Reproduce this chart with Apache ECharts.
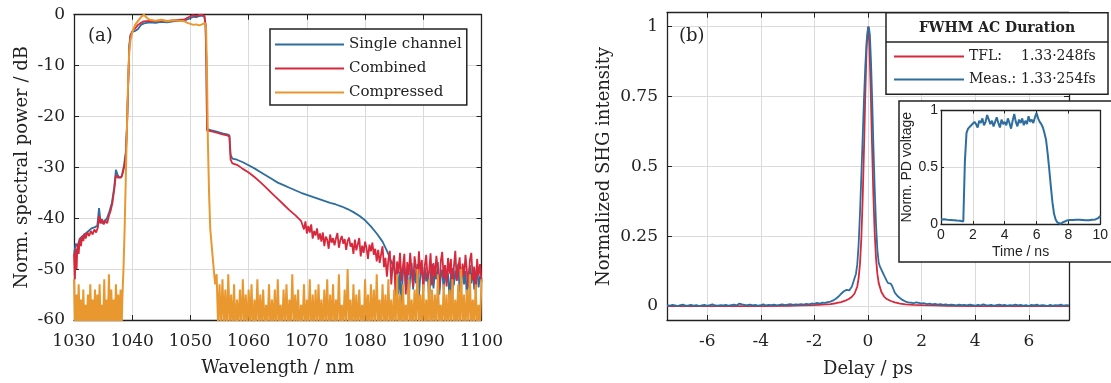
<!DOCTYPE html>
<html>
<head>
<meta charset="utf-8">
<script src="https://cdn.jsdelivr.net/npm/echarts@6/dist/echarts.min.js"></script>
<style>
html, body { margin: 0; padding: 0; background: #fff; }
#chart { width: 1111px; height: 383px; }
</style>
</head>
<body>
<div id="chart"></div>
<script>
// ---- (a) spectra, wavelength in nm, power in dB ----
var singleX = [1030,1030.3,1030.6,1031,1031.5,1032,1032.5,1033,1033.5,1034,1034.3,1034.5,1034.8,1035.2,1035.6,1036,1036.5,1036.9,1037.2,1037.5,1037.8,1038.2,1038.6,1038.9,1039.1,1039.3,1039.5,1039.7,1040,1040.5,1041,1041.5,1042,1043,1044,1045,1046,1047,1048,1049,1050,1050.5,1051,1051.5,1052,1052.4,1052.6,1052.75,1052.85,1053.5,1054.5,1055.5,1056.3,1056.7,1056.9,1057.2,1058,1059,1060,1061,1062,1063,1064,1065,1066,1067,1068,1069,1070,1071,1072,1073,1074,1075,1076,1077,1078,1079,1080,1081,1082,1083,1083.8,1084.5,1085];
var singleY = [-47,-45,-45.5,-44,-43.5,-43,-42.5,-42,-41.8,-41.5,-38,-40,-41,-40.5,-40.2,-39,-37,-34,-30.5,-31.5,-32,-31.8,-29.5,-27,-22,-14,-6,-4,-3.4,-3.2,-2.8,-2,-1.7,-1.5,-1.6,-1.4,-1.5,-1.3,-1.2,-1.1,-0.7,-0.4,-0.5,-0.3,-0.2,-0.4,-2,-10,-22.5,-22.7,-23,-23.3,-23.5,-23.7,-27.5,-28.3,-28.5,-29,-29.6,-30.2,-30.9,-31.6,-32.3,-33,-33.5,-34,-34.5,-35,-35.4,-35.8,-36.2,-36.6,-37,-37.3,-37.7,-38.2,-38.8,-39.5,-40.4,-41.6,-43,-44.6,-46.5,-48.5,-50];
var singleTailStart = 1085.25, singleTailStep = 0.25;
var singleTail = [-52,-49,-55,-50.5,-57,-51,-49.5,-53.5,-50,-56,-51.5,-48.8,-54,-50.2,-52.8,-49,-55.5,-51,-50,-53,
	-49.6,-52.4,-50.5,-56.5,-51.2,-49,-53.8,-50.6,-52,-48.6,-55,-51.4,-50.1,-54.2,-49.3,-52.6,-50.8,-56,-51,-49.8,
	-53.2,-50.3,-52.2,-48.9,-54.6,-51.1,-49.7,-53,-50.4,-55.8,-51.6,-49.2,-52.8,-50,-54,-50.9,-49.5,-53.6,-51.3,-52];

var combX = [1030,1030.15,1030.3,1030.45,1030.6,1030.8,1031,1031.2,1031.4,1031.6,1031.8,1032,1032.3,1032.6,1032.9,1033.2,1033.5,1033.8,1034.1,1034.3,1034.5,1034.8,1035.1,1035.4,1035.7,1036,1036.3,1036.6,1036.9,1037.2,1037.5,1037.8,1038.1,1038.4,1038.7,1038.9,1039.1,1039.3,1039.5,1039.7,1040,1040.5,1041,1041.5,1042,1043,1044,1045,1046,1047,1048,1049,1050,1050.5,1051,1051.5,1052,1052.4,1052.6,1052.75,1052.85,1053.5,1054.5,1055.5,1056.3,1056.7,1056.9,1057.2,1058,1059,1060,1061,1062,1063,1064,1065,1066,1067,1068,1069];
var combY = [-47,-52,-46,-50,-45,-47,-44,-45.5,-43.5,-44.5,-43,-44,-42.8,-43.5,-42.5,-43.2,-42.2,-42.8,-41.8,-39.5,-41,-40.2,-41.2,-40.5,-41,-39.5,-38.5,-37,-34.5,-31.5,-32,-32.3,-32,-31,-29.5,-27.5,-22,-14,-6.5,-4.2,-3.3,-2.7,-2,-1.6,-1.3,-1.2,-1.3,-1.1,-1.2,-1.1,-1,-0.9,-0.3,-0.1,-0.3,0,0,-0.2,-2,-10,-22.8,-22.9,-23.2,-23.5,-23.7,-24,-28.5,-29.2,-29.5,-30.3,-31,-31.9,-32.9,-34,-35.1,-36.2,-37.3,-38.4,-39.4,-40.5];
var combTailStart = 1069.25, combTailStep = 0.25;
var combTail = [-40.8,-42.2,-40.6,-43,-41.5,-42.8,-41.2,-44,-42.5,-43.4,-42,-44.2,
	-43,-44.6,-42.8,-45.5,-43.6,-44.2,-46,-43.2,-44.8,-43.9,-45.3,-44,-42.9,-45.8,-44.3,-43.5,-45,-44.1,-46.2,-44.5,
	-43.8,-45.6,-44.9,-47,-44.2,-46.3,-45.1,-43.9,-47.5,-45.4,-46.8,-44.6,-45.9,-48,-45.2,-46.5,-44.8,-47.2,-46,-48.5,
	-46.2,-48.8,-47.1,-45.5,-49.6,-47.8,-51.5,-48.2,-46.4,-53,-49,-47.3,-56.5,-48.5,-50.8,-46.8,-52.4,-49.5,-47,-55,
	-48.6,-51.2,-46.8,-50.4,-53.5,-47.5,-49.8,-52.6,-46.5,-51,-48.2,-54.5,-49.4,-47.2,-52,-50.6,-46.9,-53.2,-48.8,-51.5,
	-47.4,-50.2,-54,-48.5,-46.6,-51.8,-49.2,-53.4,-47.8,-50.9,-48,-55.2,-49.6,-46.4,-52.3,-50,-47.7,-53.8,-48.9,-51.4,
	-47.2,-50.5,-53.6,-48.3,-46.8,-52.2,-49.5,-54.8,-48,-51.3,-49,-52.5];

var compHeadStart = 1030, compHeadStep = 0.2;
var compHead = [-52,-61,-55,-62,-53,-61,-56,-63,-54,-62,-57,-61,-55,-62,-53,-61,-56,-62,-54,-63,-55,-61,-53,-62,-57,-61,-52,-63,-56,-61,-51,-62,-54,-61,-56,-62,-53,-61,-55,-62,-54,-61];
var compX = [1038.3,1038.5,1038.7,1038.9,1039.1,1039.3,1039.5,1039.7,1040,1040.5,1041,1041.5,1042,1042.5,1043,1044,1045,1046,1047,1048,1049,1049.5,1050,1050.5,1051,1051.5,1052,1052.5,1052.7,1052.85,1053,1053.2,1053.4,1053.7,1054,1054.25];
var compY = [-56,-50,-42,-32,-22,-13,-7,-5,-3.5,-2,-1.2,-0.5,0,-0.6,-1,-1.2,-1,-1.3,-1.1,-1.2,-1.3,-1.6,-1.8,-2,-1.9,-2.1,-1.9,-1.6,-3,-12,-25,-35,-42,-46,-50,-53];
var compTailStart = 1054.5, compTailStep = 0.25;
var compTail = [-51,-61,-53,-62,-52,-61,-54,-63,-51,-61,-55,-62,-53,-63,-56,-61,-54,-62,-52,-61,
	-55,-62,-54,-61,-53,-63,-56,-61,-52,-62,-55,-61,-54,-62,-57,-61,-53,-62,-56,-61,
	-54,-63,-52,-61,-57,-62,-54,-61,-53,-62,-56,-61,-51,-62,-55,-61,-54,-63,-57,-61,
	-53,-62,-56,-61,-52,-63,-55,-61,-54,-62,-53,-61,-56,-62,-54,-61,-52,-63,-55,-61,
	-53,-62,-56,-61,-51,-62,-57,-61,-54,-62,-50,-61,-56,-63,-53,-61,-55,-62,-54,-61,
	-57,-62,-52,-61,-55,-63,-53,-61,-54,-62,-51,-61,-56,-62,-53,-61,-55,-63,-52,-61,
	-56,-62,-54,-61,-51,-62,-55,-63,-53,-61,-57,-62,-52,-61,-56,-62,-54,-61,-50,-62,
	-55,-61,-53,-62,-56,-61,-52,-63,-54,-61,-55,-62,-51,-61,-57,-62,-53,-61,-55,-62,
	-54,-61,-52,-62,-56,-61,-53,-63,-50,-61,-55,-62,-54,-61,-51,-62,-56,-61,-53,-62,
	-57,-61,-52];

// ---- (b) autocorrelation, delay in ps ----
var delayTicks = [-6, -4, -2, 0, 2, 4, 6];
var shgTicks = [0, 0.25, 0.5, 0.75, 1];
var tflX = [-7.5,-4,-3,-2.5,-2,-1.7,-1.4,-1.2,-1,-0.85,-0.7,-0.6,-0.5,-0.4,-0.35,-0.3,-0.25,-0.2,-0.15,-0.1,-0.05,0,0.05,0.1,0.15,0.2,0.25,0.3,0.35,0.4,0.5,0.6,0.7,0.85,1,1.2,1.4,1.7,2,2.5,3,4,7.5];
var tflY = [0,0,0.001,0.002,0.003,0.005,0.007,0.01,0.014,0.019,0.026,0.033,0.045,0.07,0.1,0.15,0.24,0.38,0.56,0.76,0.93,1,0.94,0.78,0.58,0.4,0.26,0.17,0.115,0.082,0.05,0.034,0.025,0.018,0.013,0.009,0.006,0.004,0.003,0.002,0.001,0,0];
var measLeftStart = -7.5, measStep = 0.1;
var measLeft = [0.003,0.001,0.004,0.002,0,0.003,0.005,0.001,0.002,0.004,
	0.001,0.003,0,0.002,0.004,0.001,0.003,0.006,0.002,0.001,
	0.003,0.002,0.004,0.001,0.003,0.005,0.002,0.009,0.006,0.004,
	0.003,0.005,0.002,0.004,0.001,0.003,0.006,0.002,0.004,0.003,
	0.005,0.002,0.004,0.006,0.003,0.005,0.007,0.004,0.006,0.005,
	0.007,0.005,0.008,0.006,0.009,0.008,0.011,0.009,0.012,0.011];
var measX = [-1.5,-1.4,-1.3,-1.2,-1.1,-1,-0.9,-0.8,-0.75,-0.7,-0.65,-0.6,-0.55,-0.5,-0.45,-0.4,-0.35,-0.3,-0.25,-0.2,-0.15,-0.1,-0.05,0,0.03,0.07,0.11,0.15,0.2,0.25,0.3,0.35,0.4,0.45,0.5,0.55,0.6,0.65,0.7,0.75,0.8,0.85,0.9,0.95,1,1.1,1.2,1.3,1.4,1.5];
var measY = [0.014,0.016,0.02,0.026,0.034,0.044,0.053,0.058,0.052,0.056,0.062,0.07,0.085,0.1,0.115,0.15,0.22,0.33,0.46,0.6,0.74,0.86,0.95,0.99,1,0.97,0.88,0.76,0.58,0.42,0.29,0.2,0.155,0.14,0.13,0.12,0.11,0.1,0.09,0.082,0.075,0.08,0.072,0.06,0.048,0.036,0.028,0.021,0.016,0.013];
var measRightStart = 1.6;
var measRight = [0.012,0.01,0.013,0.011,0.009,0.01,0.007,0.009,0.006,0.008,
	0.005,0.007,0.004,0.006,0.003,0.005,0.004,0.002,0.005,0.003,
	0.004,0.002,0.005,0.003,0.001,0.004,0.002,0.006,0.003,0.002,
	0.004,0.001,0.003,0.005,0.002,0.004,0.001,0.003,0.002,0.005,
	0.002,0.004,0.001,0.003,0,0.004,0.002,0.005,0.001,0.003,
	0.002,0,0.004,0.001,0.003,0.002,0.005,0.001,0.003,0.002];

// ---- inset: photodiode trace, time in ns ----
var pdStart = 0, pdStep = 0.1;
var pdVolt = [0.04,0.045,0.041,0.043,0.038,0.04,0.036,0.039,0.034,0.032,
	0.03,0.033,0.028,0.026,0.022,0.55,0.8,0.84,0.83,0.87,
	0.86,0.9,0.88,0.85,0.91,0.89,0.93,0.87,0.9,0.96,
	0.92,0.88,0.91,0.86,0.9,0.94,0.89,0.85,0.92,0.88,
	0.9,0.87,0.93,0.89,0.84,0.91,0.97,0.9,0.86,0.92,
	0.89,0.93,0.87,0.91,0.88,0.95,0.9,0.92,0.89,0.94,
	0.98,0.93,0.9,0.88,0.85,0.8,0.74,0.62,0.48,0.33,
	0.19,0.09,0.04,0.015,0.005,0.002,0.01,0.018,0.025,0.03,
	0.032,0.035,0.031,0.036,0.033,0.037,0.034,0.038,0.035,0.036,
	0.039,0.034,0.037,0.033,0.036,0.038,0.035,0.04,0.046,0.055,
	0.07];

var BLUE = '#2e6e9e', RED = '#d8283c', ORANGE = '#e8982f';
var SERIF = 'DejaVu Serif', SANS = 'Liberation Sans', INK = '#222';

function pairs(xs, ys) {
	var out = [];
	for (var i = 0; i < xs.length; i++) out.push([xs[i], ys[i]]);
	return out;
}
function sampled(start, step, ys) {
	var out = [];
	for (var i = 0; i < ys.length; i++) out.push([+(start + i * step).toFixed(3), ys[i]]);
	return out;
}
function plain(v) { return String(v); }

function box(grid, axisOpt, nameOpt, mirror) {
	// main axis plus a label-less mirror so the plot gets a closed box
	var base = {
		gridIndex: grid, type: 'value',
		axisLine: { show: true, onZero: false, lineStyle: { color: INK, width: 1.3 } },
		axisTick: { show: true, inside: true, length: 5, lineStyle: { color: INK } },
		z: axisOpt.z || 0
	};
	var main = Object.assign({}, base, axisOpt);
	var other = Object.assign({}, base, axisOpt, {
		position: mirror, name: '', axisLabel: { show: false }, splitLine: { show: false }
	});
	if (axisOpt.axisTick) other.axisTick = Object.assign({}, base.axisTick, axisOpt.axisTick);
	if (axisOpt.axisTick) main.axisTick = Object.assign({}, base.axisTick, axisOpt.axisTick);
	Object.assign(main, nameOpt);
	return [main, other];
}

var gridLine = { show: true, lineStyle: { color: '#dadada', width: 1 } };
var serifLabel = { fontFamily: SERIF, fontSize: 17, color: INK, margin: 9, formatter: plain };
var serifXLabel = Object.assign({}, serifLabel, { margin: 13 });
var serifName = { fontFamily: SERIF, fontSize: 18, color: INK };
var sansX = { fontFamily: SANS, fontSize: 14, color: INK, margin: 4 };
var sansY = { fontFamily: SANS, fontSize: 14, color: INK, margin: 3 };
var sansName = { fontFamily: SANS, fontSize: 14, color: INK };

var xAxes = [].concat(
	box(0, { min: 1030, max: 1100, interval: 10, axisLabel: serifXLabel, splitLine: gridLine },
		{ name: 'Wavelength / nm', nameLocation: 'middle', nameGap: 39, nameTextStyle: serifName }, 'top'),
	box(1, { min: -7.5, max: 7.5, axisLabel: Object.assign({ customValues: delayTicks }, serifXLabel),
		axisTick: { customValues: delayTicks }, splitLine: gridLine },
		{ name: 'Delay / ps', nameLocation: 'middle', nameGap: 40, nameTextStyle: serifName }, 'top'),
	box(2, { min: 0, max: 10, interval: 2, axisLabel: sansX, splitLine: gridLine, z: 60,
		axisTick: { length: 3 } },
		{ name: 'Time / ns', nameLocation: 'middle', nameGap: 21, nameTextStyle: sansName }, 'top')
);
var yAxes = [].concat(
	box(0, { min: -60, max: 0, interval: 10, axisLabel: serifLabel, splitLine: gridLine },
		{ name: 'Norm. spectral power / dB', nameLocation: 'middle', nameGap: 43, nameTextStyle: serifName }, 'right'),
	box(1, { min: -0.05, max: 1.05, axisLabel: Object.assign({ customValues: shgTicks }, serifLabel),
		axisTick: { customValues: shgTicks }, splitLine: gridLine },
		{ name: 'Normalized SHG intensity', nameLocation: 'middle', nameGap: 54, nameTextStyle: serifName }, 'right'),
	box(2, { min: 0, max: 1, interval: 0.5, axisLabel: sansY, splitLine: gridLine, z: 60,
		axisTick: { length: 3 } },
		{ name: 'Norm. PD voltage', nameLocation: 'middle', nameGap: 27, nameTextStyle: sansName }, 'right')
);

function line(name, xi, yi, data, color, width, z) {
	return {
		name: name, type: 'line', xAxisIndex: xi, yAxisIndex: yi, data: data,
		symbol: 'none', smooth: false, z: z || 2,
		lineStyle: { color: color, width: width }, itemStyle: { color: color }
	};
}

var chart = echarts.init(document.getElementById('chart'));
var option = {
	animation: false,
	backgroundColor: '#fff',
	grid: [
		{ left: 74, top: 14.7, width: 407.5, height: 305.3 },
		{ left: 667, top: 12.7, width: 402, height: 309.3 },
		{ left: 941, top: 110.5, width: 160, height: 113.5, z: 60 }
	],
	xAxis: xAxes,
	yAxis: yAxes,
	legend: [
		{
			data: ['Single channel', 'Combined', 'Compressed'],
			orient: 'vertical', left: 270, top: 29,
			padding: [8, 5, 5, 4], itemWidth: 69, itemHeight: 14, itemGap: 9,
			backgroundColor: '#fff', borderColor: INK, borderWidth: 1.5,
			itemStyle: { opacity: 0 },
			textStyle: { fontFamily: SERIF, fontSize: 15, color: INK }
		},
		{
			data: ['TFL', 'Meas.'],
			orient: 'vertical', left: 893, top: 49.5, padding: 0, z: 60,
			itemWidth: 70, itemHeight: 14, itemGap: 9,
			itemStyle: { opacity: 0 },
			formatter: function (name) {
				var val = name === 'TFL' ? '1.33·248fs' : '1.33·254fs';
				return '{a|' + name + ':}{b|' + val + '}';
			},
			textStyle: {
				fontFamily: SERIF, fontSize: 14, color: INK,
				rich: {
					a: { width: 52, fontFamily: SERIF, fontSize: 14, color: INK },
					b: { fontFamily: SERIF, fontSize: 14, color: INK }
				}
			}
		}
	],
	graphic: [
		{ type: 'rect', z: 50, shape: { x: 886, y: 12.7, width: 222, height: 81.5 },
			style: { fill: '#fff', stroke: INK, lineWidth: 1.5 } },
		{ type: 'line', z: 51, shape: { x1: 886, y1: 42, x2: 1108, y2: 42 },
			style: { stroke: INK, lineWidth: 1.3 } },
		{ type: 'text', z: 52, x: 997, y: 28,
			style: { text: 'FWHM AC Duration', fill: INK, font: 'bold 14px "DejaVu Serif"', textAlign: 'center', textVerticalAlign: 'middle' } },
		{ type: 'rect', z: 50, shape: { x: 899, y: 101, width: 220, height: 161 },
			style: { fill: '#fff', stroke: INK, lineWidth: 1.5 } },
		{ type: 'text', z: 52, x: 88, y: 36,
			style: { text: '(a)', fill: INK, font: '18px "DejaVu Serif"', textVerticalAlign: 'middle' } },
		{ type: 'text', z: 52, x: 679, y: 36,
			style: { text: '(b)', fill: INK, font: '18px "DejaVu Serif"', textVerticalAlign: 'middle' } }
	],
	series: [
		line('Single channel', 0, 0, pairs(singleX, singleY).concat(sampled(singleTailStart, singleTailStep, singleTail)), BLUE, 1.8),
		line('Combined', 0, 0, pairs(combX, combY).concat(sampled(combTailStart, combTailStep, combTail)), RED, 1.8),
		line('Compressed', 0, 0, sampled(compHeadStart, compHeadStep, compHead)
			.concat(pairs(compX, compY)).concat(sampled(compTailStart, compTailStep, compTail)), ORANGE, 2),
		line('TFL', 2, 2, pairs(tflX, tflY), RED, 1.8),
		line('Meas.', 2, 2, sampled(measLeftStart, measStep, measLeft)
			.concat(pairs(measX, measY)).concat(sampled(measRightStart, measStep, measRight)), BLUE, 1.8),
		line('PD', 4, 4, sampled(pdStart, pdStep, pdVolt), BLUE, 2, 61)
	]
};
chart.setOption(option);
</script>
</body>
</html>
